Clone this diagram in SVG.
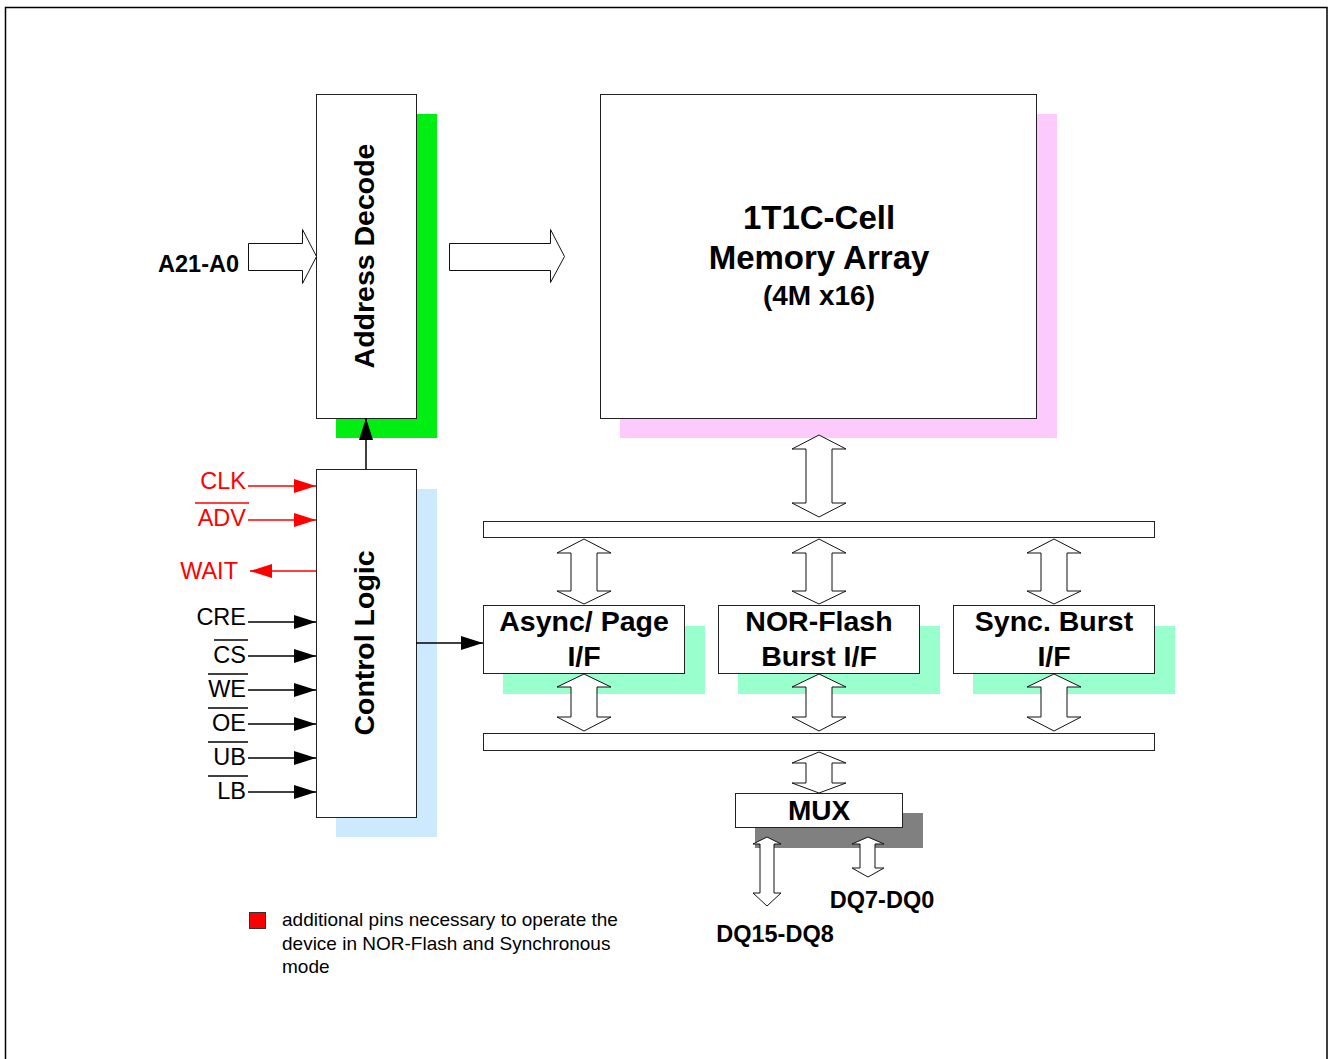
<svg xmlns="http://www.w3.org/2000/svg" width="1329" height="1059" viewBox="0 0 1329 1059">
<style>
.box{fill:#fff;stroke:#222;stroke-width:1}
.ba{fill:#fff;stroke:#111;stroke-width:1}
.t{font-family:"Liberation Sans",Arial,sans-serif;font-weight:bold;fill:#000;text-anchor:middle}
.s{font-family:"Liberation Sans",Arial,sans-serif;font-size:23.5px;text-anchor:end}
.k{stroke:#000;stroke-width:1.5;fill:none}
.r{stroke:#f00;stroke-width:1.5;fill:none}
</style>
<defs>
<marker id="ak" markerWidth="22" markerHeight="14" refX="22" refY="7" orient="auto" markerUnits="userSpaceOnUse"><path d="M0,0 L22,7 L0,14 Z" fill="#000"/></marker>
<marker id="ar" markerWidth="22" markerHeight="14" refX="22" refY="7" orient="auto" markerUnits="userSpaceOnUse"><path d="M0,0 L22,7 L0,14 Z" fill="#f00"/></marker>
</defs>
<rect width="1329" height="1059" fill="#fff"/>
<path d="M5.5,1059 V7.5 H1327 V1059" fill="none" stroke="#000" stroke-width="1.5"/>

<g id="address-decode">
<rect x="336" y="114" width="101" height="324" fill="#00ee11"/>
<rect class="box" x="316.5" y="94.5" width="100" height="324"/>
<text class="t" font-size="28.5" transform="translate(374,256) rotate(-90)">Address Decode</text>
</g>

<g id="memory-array">
<rect x="620" y="114" width="437" height="324" fill="#fccafc"/>
<rect class="box" x="600.5" y="94.5" width="436" height="324"/>
<text class="t" font-size="33" x="819" y="229">1T1C-Cell</text>
<text class="t" font-size="33" x="819" y="269">Memory Array</text>
<text class="t" font-size="28" x="819" y="305">(4M x16)</text>
</g>

<g id="control-logic">
<rect x="336" y="489" width="101" height="348" fill="#cce9fd"/>
<rect class="box" x="316.5" y="469.5" width="100" height="348"/>
<text class="t" font-size="28.5" transform="translate(374,643) rotate(-90)">Control Logic</text>
</g>

<g id="bus-top"><rect class="box" x="483.5" y="521.5" width="671" height="16"/></g>
<g id="bus-bottom"><rect class="box" x="483.5" y="733.5" width="671" height="17"/></g>

<g id="async-if">
<rect x="503" y="626" width="202" height="68" fill="#99ffcc"/>
<rect class="box" x="483.5" y="605.5" width="201" height="68"/>
<text class="t" font-size="28.5" x="584" y="631">Async/ Page</text>
<text class="t" font-size="28.5" x="584" y="666">I/F</text>
</g>
<g id="nor-if">
<rect x="738" y="626" width="202" height="68" fill="#99ffcc"/>
<rect class="box" x="718.5" y="605.5" width="201" height="68"/>
<text class="t" font-size="28.5" x="819" y="631">NOR-Flash</text>
<text class="t" font-size="28.5" x="819" y="666">Burst I/F</text>
</g>
<g id="sync-if">
<rect x="973" y="626" width="202" height="68" fill="#99ffcc"/>
<rect class="box" x="953.5" y="605.5" width="201" height="68"/>
<text class="t" font-size="28.5" x="1054" y="631">Sync. Burst</text>
<text class="t" font-size="28.5" x="1054" y="666">I/F</text>
</g>

<g id="mux">
<rect x="755" y="813" width="168" height="35" fill="#808080"/>
<rect class="box" x="735.5" y="793.5" width="167" height="34"/>
<text class="t" font-size="28" x="819" y="820">MUX</text>
</g>

<g id="connectors">
<path class="ba" d="M248.5,243.5 H302.5 V229.5 L316.5,256.5 L302.5,283.5 V270.5 H248.5 Z"/>
<path class="ba" d="M449.5,243.5 H550.5 V229.5 L564.5,256.5 L550.5,282.5 V270.5 H449.5 Z"/>
<path class="ba" d="M819,435 L846,449 H832 V503 H846 L819,517 L792,503 H806 V449 H792 Z"/>
<path class="ba" d="M584,539 L611,553 H597 V591 H611 L584,604 L557,591 H571 V553 H557 Z"/>
<path class="ba" d="M819,539 L846,553 H832 V591 H846 L819,604 L792,591 H806 V553 H792 Z"/>
<path class="ba" d="M1054,539 L1081,553 H1067 V591 H1081 L1054,604 L1027,591 H1041 V553 H1027 Z"/>
<path class="ba" d="M584,674 L611,687 H597 V717 H611 L584,731 L557,717 H571 V687 H557 Z"/>
<path class="ba" d="M819,674 L846,687 H832 V717 H846 L819,731 L792,717 H806 V687 H792 Z"/>
<path class="ba" d="M1054,674 L1081,687 H1067 V717 H1081 L1054,731 L1027,717 H1041 V687 H1027 Z"/>
<path class="ba" d="M819,752 L846,763 H832 V783 H846 L819,793 L792,783 H806 V763 H792 Z"/>
<path class="ba" d="M767,837 L781,844 H774 V893 H781 L767,906 L753,893 H760 V844 H753 Z"/>
<path class="ba" d="M868,837 L884,844 H875 V868 H884 L868,877 L852,868 H860 V844 H852 Z"/>
<line class="k" x1="366" y1="469" x2="366" y2="418" marker-end="url(#ak)"/>
<line class="k" x1="416" y1="643" x2="483" y2="643" marker-end="url(#ak)"/>
<line class="r" x1="248" y1="486" x2="316" y2="486" marker-end="url(#ar)"/>
<line class="r" x1="248" y1="520" x2="316" y2="520" marker-end="url(#ar)"/>
<line class="r" x1="316" y1="571" x2="250" y2="571" marker-end="url(#ar)"/>
<line class="k" x1="248" y1="622" x2="316" y2="622" marker-end="url(#ak)"/>
<line class="k" x1="248" y1="656" x2="316" y2="656" marker-end="url(#ak)"/>
<line class="k" x1="248" y1="690" x2="316" y2="690" marker-end="url(#ak)"/>
<line class="k" x1="248" y1="724" x2="316" y2="724" marker-end="url(#ak)"/>
<line class="k" x1="248" y1="758" x2="316" y2="758" marker-end="url(#ak)"/>
<line class="k" x1="248" y1="792" x2="316" y2="792" marker-end="url(#ak)"/>
</g>

<g id="labels">
<text class="t" font-size="23.5" x="239" y="272" style="text-anchor:end">A21-A0</text>
<text class="s" x="246" y="489" fill="#f00">CLK</text>
<text class="s" x="246" y="526" fill="#f00">ADV</text>
<line x1="195" y1="503" x2="249" y2="503" stroke="#f00" stroke-width="1.5"/>
<text class="s" x="238" y="579" fill="#f00">WAIT</text>
<text class="s" x="246" y="625" fill="#000">CRE</text>
<text class="s" x="246" y="663" fill="#000">CS</text>
<line x1="214" y1="640" x2="248" y2="640" stroke="#000" stroke-width="1.5"/>
<text class="s" x="246" y="697" fill="#000">WE</text>
<line x1="208" y1="674" x2="248" y2="674" stroke="#000" stroke-width="1.5"/>
<text class="s" x="246" y="731" fill="#000">OE</text>
<line x1="208" y1="708" x2="248" y2="708" stroke="#000" stroke-width="1.5"/>
<text class="s" x="246" y="765" fill="#000">UB</text>
<line x1="208" y1="742" x2="248" y2="742" stroke="#000" stroke-width="1.5"/>
<text class="s" x="246" y="799" fill="#000">LB</text>
<line x1="208" y1="776" x2="248" y2="776" stroke="#000" stroke-width="1.5"/>
<text class="t" font-size="23.5" x="882" y="908">DQ7-DQ0</text>
<text class="t" font-size="23.5" x="775" y="942">DQ15-DQ8</text>
</g>

<g id="legend">
<rect x="249.5" y="912.5" width="16" height="16" fill="#f00" stroke="#333" stroke-width="1"/>
<g font-family="Liberation Sans, Arial, sans-serif" font-size="19" fill="#000">
<text x="282" y="926">additional pins necessary to operate the</text>
<text x="282" y="950">device in NOR-Flash and Synchronous</text>
<text x="282" y="973">mode</text>
</g>
</g>
</svg>
